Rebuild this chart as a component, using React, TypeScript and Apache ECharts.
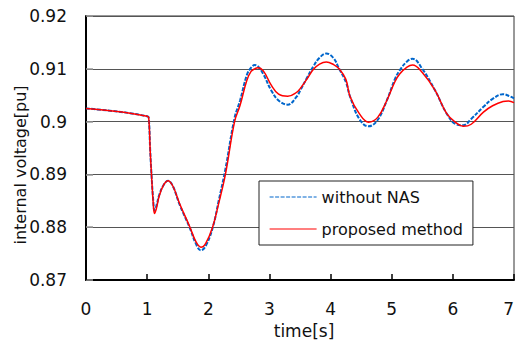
import React, { useEffect, useRef } from "react";
import * as echarts from "echarts";

const times = [
  0, 0.36, 0.72, 1.0, 1.025, 1.05, 1.07, 1.1, 1.12, 1.15, 1.2, 1.27, 1.34, 1.42, 1.53, 1.7, 1.8,
  1.88, 1.96, 2.07, 2.17, 2.28, 2.43, 2.52, 2.63, 2.7, 2.76, 2.81, 2.9, 3.03, 3.15, 3.3, 3.45,
  3.5, 3.61, 3.72, 3.82, 3.93, 4.05, 4.14, 4.25, 4.32, 4.47, 4.62, 4.77, 4.92, 5.05, 5.13, 5.25,
  5.34, 5.5, 5.71, 5.9, 6.05, 6.17, 6.3, 6.5, 6.65, 6.82, 6.91, 7.0,
];

const withoutNAS = [
  0.9025, 0.9021, 0.9016, 0.901, 0.9008, 0.8945, 0.8902, 0.885, 0.8832, 0.884, 0.8862, 0.888,
  0.8888, 0.8878, 0.8843, 0.8798, 0.8768, 0.8756, 0.8765, 0.8798, 0.885, 0.891, 0.9007, 0.904,
  0.9088, 0.9102, 0.9107, 0.9105, 0.909, 0.9059, 0.904, 0.9032, 0.9048, 0.9058, 0.9082, 0.9105,
  0.9121, 0.9129, 0.912, 0.91, 0.9075, 0.9047, 0.9005, 0.8991, 0.9003, 0.904, 0.908, 0.9097,
  0.9114, 0.9119, 0.91, 0.9059, 0.9015, 0.8995, 0.8993, 0.9005, 0.9028, 0.9043, 0.9052, 0.9049,
  0.9044,
];

const proposed = [
  0.9025, 0.9021, 0.9016, 0.901, 0.9008, 0.8945, 0.8902, 0.8845, 0.8826, 0.8835, 0.886, 0.888,
  0.8888, 0.8878, 0.8845, 0.88, 0.8772, 0.8762, 0.877, 0.88, 0.8845, 0.89, 0.9, 0.9031, 0.9078,
  0.9095, 0.91, 0.9102, 0.9096, 0.9069, 0.9052, 0.9048, 0.9056, 0.9062, 0.908, 0.9099, 0.9109,
  0.9113, 0.9108, 0.91, 0.908, 0.9047, 0.9015, 0.8999, 0.9008, 0.904, 0.9075, 0.909, 0.9103,
  0.9107, 0.9093, 0.9059, 0.9015, 0.8998, 0.8991, 0.8995, 0.9018, 0.903, 0.9038, 0.9039, 0.9036,
];

const seriesNames = ["without NAS", "proposed method"];
const xName = "time[s]";
const yName = "internal voltage[pu]";

const FONT = "DejaVu Sans";

export default function App() {
  const ref = useRef<HTMLDivElement>(null);
  useEffect(() => {
    if (!ref.current) return;
    document.body.style.margin = "0";
    const chart = echarts.init(ref.current, undefined, { renderer: "svg" });
    const pair = (vals: number[]) => times.map((t, i) => [t, vals[i]]);
    chart.setOption({
      animation: false,
      backgroundColor: "#ffffff",
      grid: {
        left: 86,
        right: 2,
        top: 16,
        bottom: 60,
        show: true,
        borderColor: "#333",
        borderWidth: 1,
        containLabel: false,
        outerBoundsMode: "none",
      },
      graphic: [
        {
          type: "text",
          x: 20,
          y: 165,
          rotation: Math.PI / 2,
          style: {
            text: yName,
            fontFamily: FONT,
            fontSize: 16,
            fill: "#111",
            align: "center",
            verticalAlign: "middle",
          },
        },
      ],
      legend: {
        orient: "vertical",
        left: 259,
        top: 181,
        padding: [8, 10, 8, 10],
        itemWidth: 47,
        itemHeight: 14,
        itemGap: 16,
        backgroundColor: "#ffffff",
        borderColor: "#222",
        borderWidth: 1,
        borderRadius: 0,
        itemStyle: { color: "transparent", borderWidth: 0, opacity: 0 },
        lineStyle: { width: 1.2 },
        textStyle: { fontFamily: FONT, fontSize: 16, color: "#111" },
        data: seriesNames,
      },
      xAxis: {
        type: "value",
        min: 0,
        max: 7,
        interval: 1,
        name: xName,
        nameLocation: "middle",
        nameGap: 42,
        nameTextStyle: { fontFamily: FONT, fontSize: 17, color: "#111", padding: [0, 0, 0, 8] },
        axisLine: { show: true, onZero: false, lineStyle: { color: "#000", width: 2 } },
        axisTick: { show: true, inside: true, length: 6, lineStyle: { color: "#000", width: 1.5 } },
        axisLabel: {
          fontFamily: FONT,
          fontSize: 17,
          color: "#111",
          margin: 20,
          alignMaxLabel: "right",
        },
        splitLine: { show: false },
      },
      yAxis: {
        type: "value",
        min: 0.87,
        max: 0.92,
        interval: 0.01,
        axisLine: { show: true, onZero: false, lineStyle: { color: "#000", width: 2 } },
        axisTick: { show: true, inside: true, length: 7, lineStyle: { color: "#999", width: 1.5 } },
        axisLabel: {
          fontFamily: FONT,
          fontSize: 17,
          color: "#111",
          margin: 19,
          formatter: (v: number) => String(+v.toFixed(2)),
        },
        splitLine: { show: true, lineStyle: { color: "#555", width: 1.2 } },
      },
      series: [
        {
          name: seriesNames[0],
          type: "line",
          data: pair(withoutNAS),
          symbol: "none",
          smooth: 0.4,
          lineStyle: { color: "#0066cc", width: 2, type: [4, 1.5] },
          itemStyle: { color: "#0066cc" },
        },
        {
          name: seriesNames[1],
          type: "line",
          data: pair(proposed),
          symbol: "none",
          smooth: 0.4,
          lineStyle: { color: "#ff0000", width: 1.5 },
          itemStyle: { color: "#ff0000" },
        },
      ],
    });
    return () => chart.dispose();
  }, []);
  return <div ref={ref} style={{ width: 516, height: 340 }} />;
}
